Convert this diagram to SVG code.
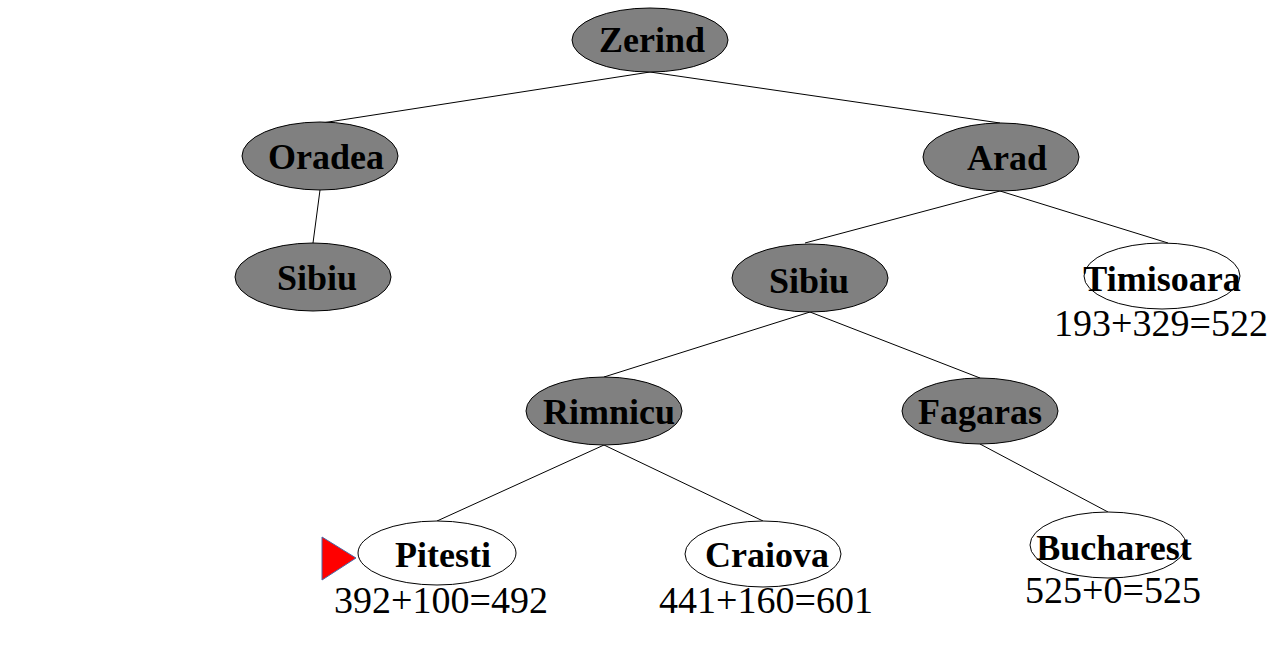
<svg xmlns="http://www.w3.org/2000/svg" width="1280" height="662" viewBox="0 0 1280 662">
<style>
.g{fill:#808080;stroke:#000;stroke-width:1}
.w{fill:#fff;stroke:#000;stroke-width:1}
.t{font-family:"Liberation Serif","Times New Roman",serif;font-weight:bold;font-size:36px;fill:#000;text-anchor:middle}
.v{font-family:"Liberation Serif","Times New Roman",serif;font-size:38px;fill:#000;text-anchor:middle}
.e{stroke:#000;stroke-width:1;fill:none}
</style>
<rect width="1280" height="662" fill="#fff"/>
<g id="connectors">
<line class="e" x1="650" y1="72" x2="322" y2="123"/>
<line class="e" x1="650" y1="72" x2="1000" y2="123"/>
<line class="e" x1="320" y1="190" x2="313" y2="243"/>
<line class="e" x1="1000" y1="191" x2="805" y2="243"/>
<line class="e" x1="1000" y1="191" x2="1168" y2="243"/>
<line class="e" x1="810" y1="312" x2="604" y2="377"/>
<line class="e" x1="810" y1="312" x2="980" y2="378"/>
<line class="e" x1="604" y1="445" x2="437" y2="521"/>
<line class="e" x1="604" y1="445" x2="763" y2="521"/>
<line class="e" x1="980" y1="444" x2="1108" y2="512"/>
</g>
<g id="zerind"><ellipse class="g" cx="650" cy="40" rx="78" ry="32"/><text class="t" x="652" y="52">Zerind</text></g>
<g id="oradea"><ellipse class="g" cx="320" cy="156" rx="78" ry="34"/><text class="t" x="326" y="169">Oradea</text></g>
<g id="arad"><ellipse class="g" cx="1001" cy="157" rx="78" ry="34"/><text class="t" x="1007" y="170">Arad</text></g>
<g id="sibiu-left"><ellipse class="g" cx="313" cy="277" rx="78" ry="34"/><text class="t" x="317" y="290">Sibiu</text></g>
<g id="sibiu"><ellipse class="g" cx="810" cy="278" rx="78" ry="34"/><text class="t" x="809" y="293">Sibiu</text></g>
<g id="timisoara"><ellipse class="w" cx="1162" cy="276" rx="78" ry="33"/><text class="t" x="1162" y="291">Timisoara</text><text class="v" x="1161" y="336">193+329=522</text></g>
<g id="rimnicu"><ellipse class="g" cx="604" cy="411" rx="78" ry="34"/><text class="t" x="609" y="424">Rimnicu</text></g>
<g id="fagaras"><ellipse class="g" cx="980" cy="411" rx="78" ry="33"/><text class="t" x="980" y="424">Fagaras</text></g>
<g id="pitesti"><ellipse class="w" cx="437" cy="553" rx="79" ry="32"/><text class="t" x="443" y="567">Pitesti</text><text class="v" x="441" y="613">392+100=492</text></g>
<g id="craiova"><ellipse class="w" cx="763" cy="554" rx="78" ry="33"/><text class="t" x="767" y="567">Craiova</text><text class="v" x="766" y="613">441+160=601</text></g>
<g id="bucharest"><ellipse class="w" cx="1108" cy="545" rx="78" ry="33"/><text class="t" x="1114" y="560">Bucharest</text><text class="v" x="1113" y="603">525+0=525</text></g>
<g id="marker"><polygon points="322,537 356,558 322,580" fill="#ff0000" stroke="#4a6aa8" stroke-width="1"/></g>
</svg>
